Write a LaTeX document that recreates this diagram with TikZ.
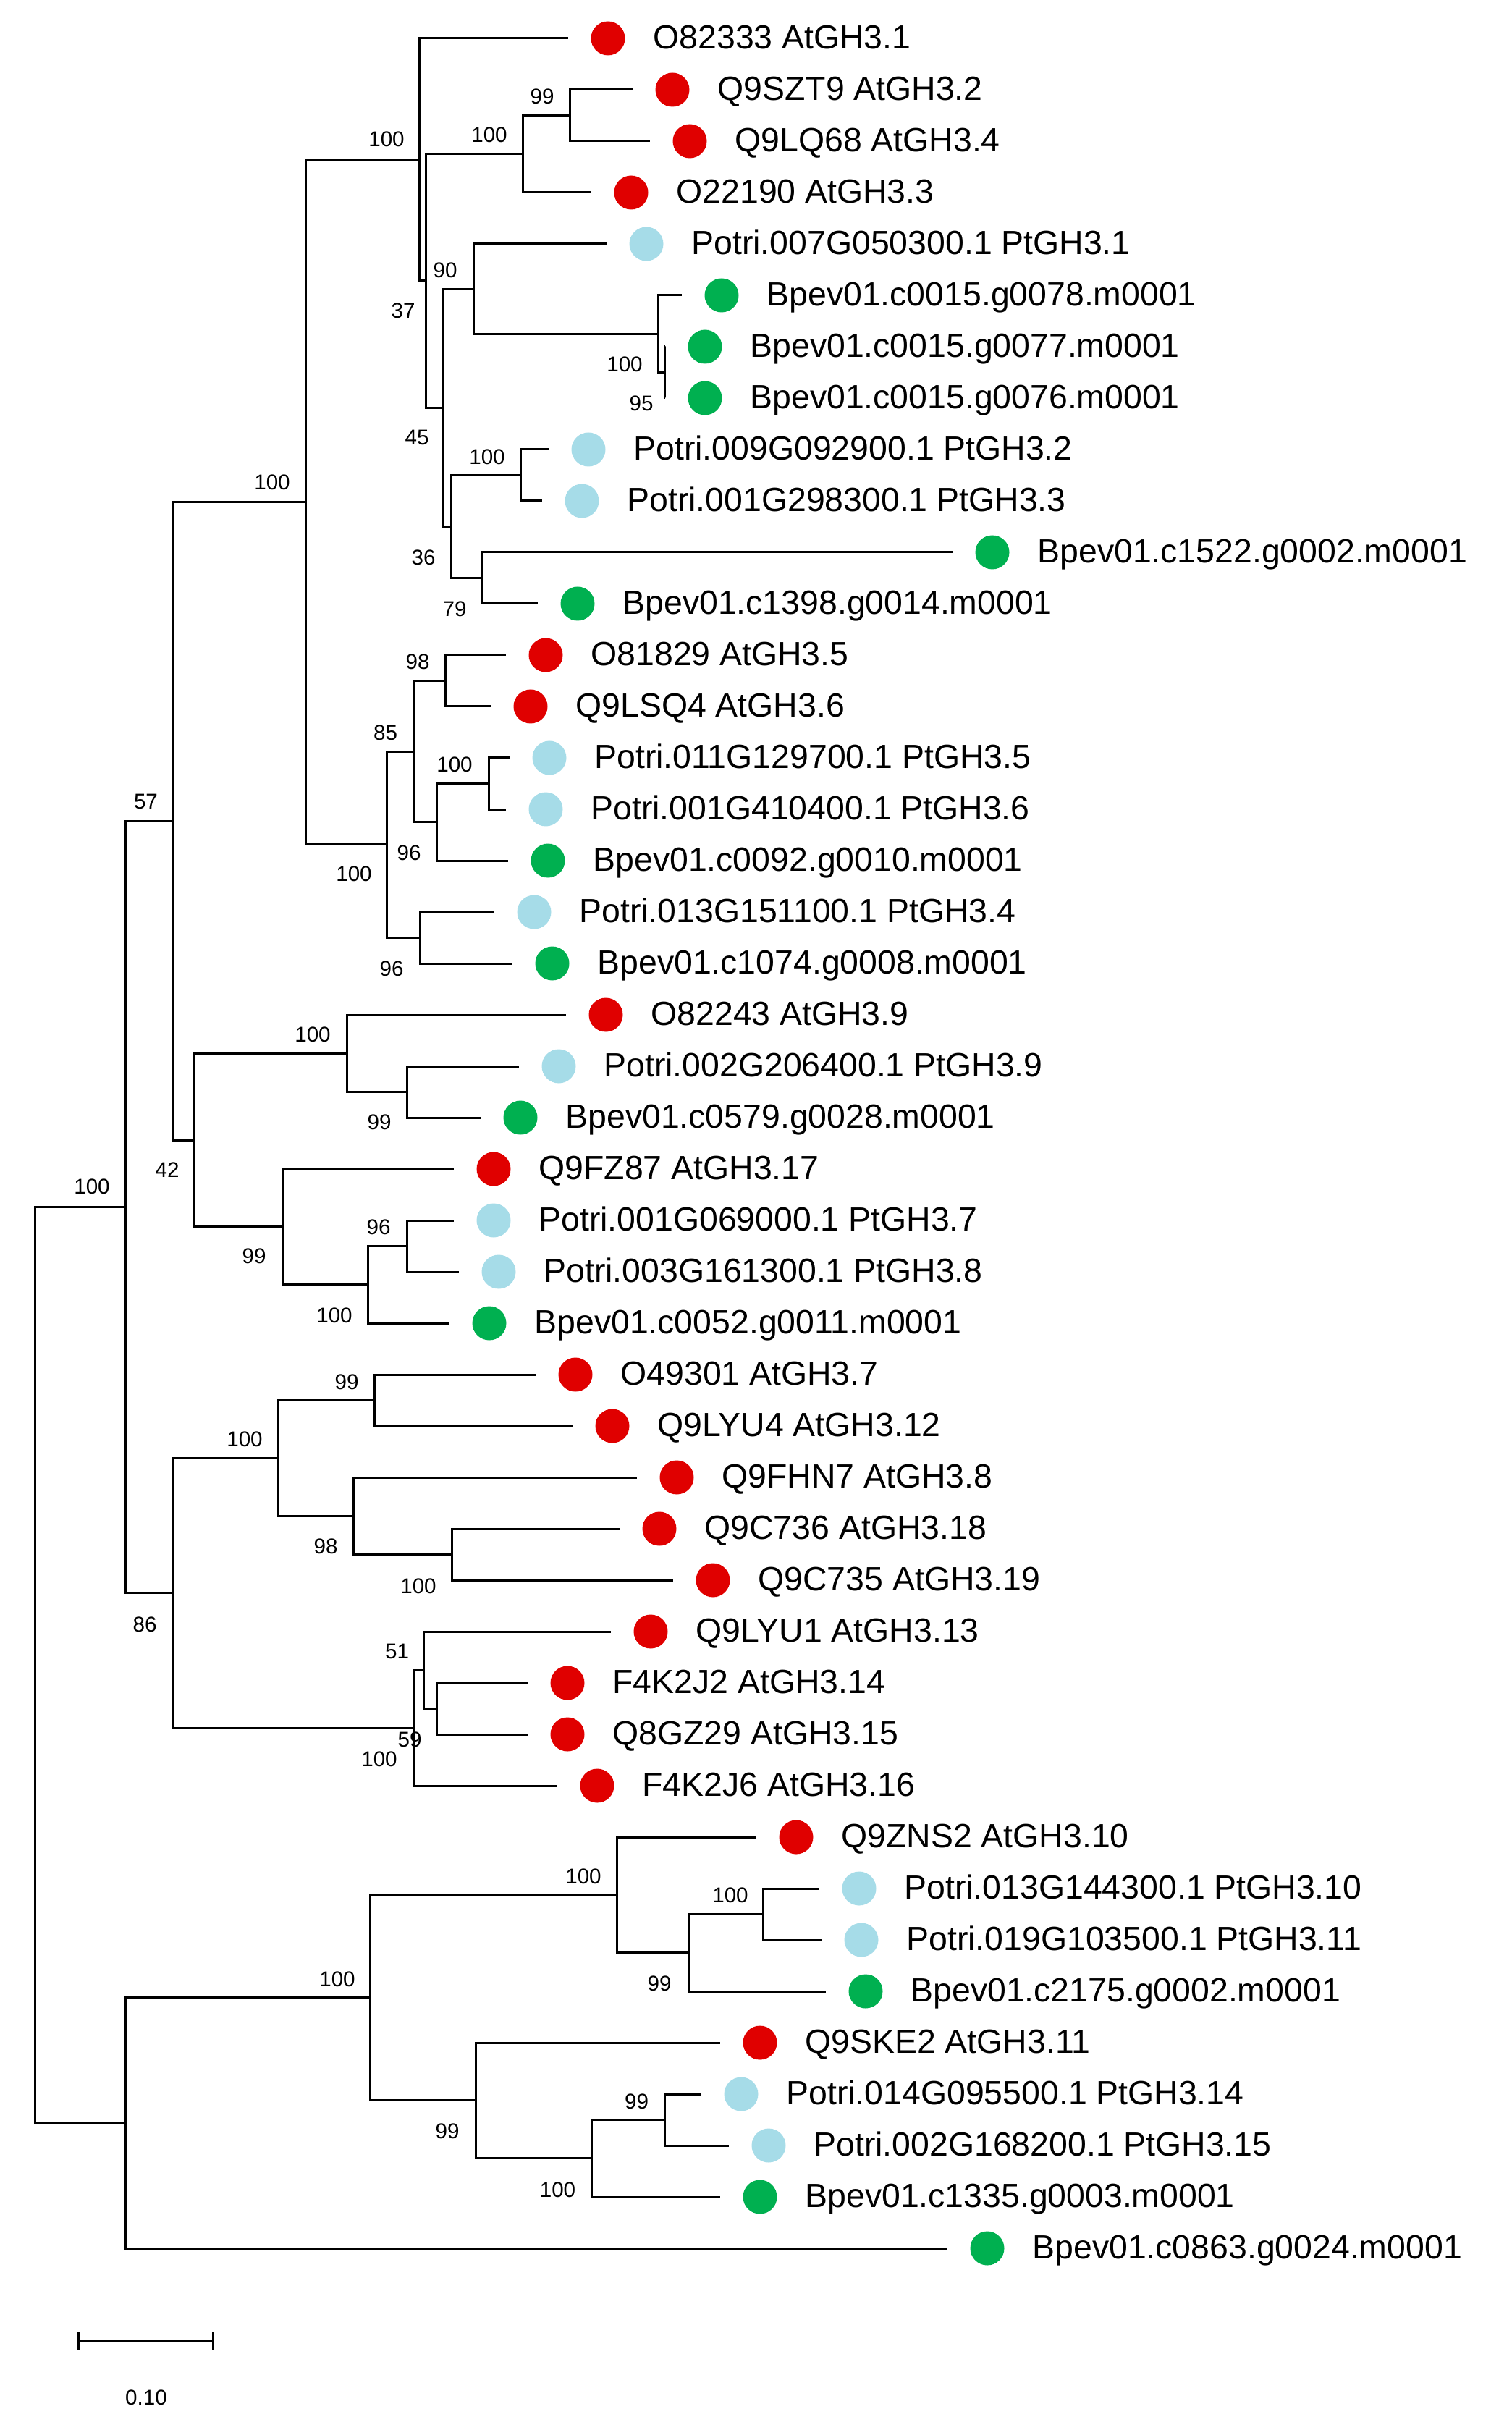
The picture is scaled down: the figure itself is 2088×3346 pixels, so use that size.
\documentclass[tikz,border=0pt]{standalone}
\usepackage{fontspec}
\setmainfont{Liberation Sans}
\usepackage{tikz}
\usetikzlibrary{arrows.meta,positioning}

\definecolor{atred}{RGB}{224,0,0}
\definecolor{ptblue}{RGB}{166,220,232}
\definecolor{bpgreen}{RGB}{0,176,80}

\tikzset{
  leaf/.style={circle,inner sep=0pt,minimum size=11.75pt,fill=#1},
  tag/.style={inner sep=0pt,text height=0.72em,text depth=0pt,font=\fontsize{11.6}{13}\selectfont},
  boot/.style={inner sep=0pt,text height=0.72em,text depth=0pt,font=\fontsize{7.4}{9}\selectfont},
  elbow/.style={to path={|- (\tikztotarget)}},
  twig/.style={shorten >=7.6pt}
}

\begin{document}
\begin{tikzpicture}[x=0.25pt,y=-0.25pt,line width=0.75pt,node distance=9pt]
\useasboundingbox (0,0) rectangle (2088,3346);

% leaves: dot, then name
  \node[leaf=atred]   (d1)  at (840,53)   {}; \node[tag] (t1)  [right=of d1]  {O82333 AtGH3.1};
  \node[leaf=atred]   (d2)  at (929,124)  {}; \node[tag] (t2)  [right=of d2]  {Q9SZT9 AtGH3.2};
  \node[leaf=atred]   (d3)  at (953,195)  {}; \node[tag] (t3)  [right=of d3]  {Q9LQ68 AtGH3.4};
  \node[leaf=atred]   (d4)  at (872,266)  {}; \node[tag] (t4)  [right=of d4]  {O22190 AtGH3.3};
  \node[leaf=ptblue]  (d5)  at (893,337)  {}; \node[tag] (t5)  [right=of d5]  {Potri.007G050300.1 PtGH3.1};
  \node[leaf=bpgreen] (d6)  at (997,408)  {}; \node[tag] (t6)  [right=of d6]  {Bpev01.c0015.g0078.m0001};
  \node[leaf=bpgreen] (d7)  at (974,479)  {}; \node[tag] (t7)  [right=of d7]  {Bpev01.c0015.g0077.m0001};
  \node[leaf=bpgreen] (d8)  at (974,550)  {}; \node[tag] (t8)  [right=of d8]  {Bpev01.c0015.g0076.m0001};
  \node[leaf=ptblue]  (d9)  at (813,621)  {}; \node[tag] (t9)  [right=of d9]  {Potri.009G092900.1 PtGH3.2};
  \node[leaf=ptblue]  (d10) at (804,692)  {}; \node[tag] (t10) [right=of d10] {Potri.001G298300.1 PtGH3.3};
  \node[leaf=bpgreen] (d11) at (1371,763) {}; \node[tag] (t11) [right=of d11] {Bpev01.c1522.g0002.m0001};
  \node[leaf=bpgreen] (d12) at (798,834)  {}; \node[tag] (t12) [right=of d12] {Bpev01.c1398.g0014.m0001};
  \node[leaf=atred]   (d13) at (754,905)  {}; \node[tag] (t13) [right=of d13] {O81829 AtGH3.5};
  \node[leaf=atred]   (d14) at (733,976)  {}; \node[tag] (t14) [right=of d14] {Q9LSQ4 AtGH3.6};
  \node[leaf=ptblue]  (d15) at (759,1047) {}; \node[tag] (t15) [right=of d15] {Potri.011G129700.1 PtGH3.5};
  \node[leaf=ptblue]  (d16) at (754,1118) {}; \node[tag] (t16) [right=of d16] {Potri.001G410400.1 PtGH3.6};
  \node[leaf=bpgreen] (d17) at (757,1189) {}; \node[tag] (t17) [right=of d17] {Bpev01.c0092.g0010.m0001};
  \node[leaf=ptblue]  (d18) at (738,1260) {}; \node[tag] (t18) [right=of d18] {Potri.013G151100.1 PtGH3.4};
  \node[leaf=bpgreen] (d19) at (763,1331) {}; \node[tag] (t19) [right=of d19] {Bpev01.c1074.g0008.m0001};
  \node[leaf=atred]   (d20) at (837,1402) {}; \node[tag] (t20) [right=of d20] {O82243 AtGH3.9};
  \node[leaf=ptblue]  (d21) at (772,1473) {}; \node[tag] (t21) [right=of d21] {Potri.002G206400.1 PtGH3.9};
  \node[leaf=bpgreen] (d22) at (719,1544) {}; \node[tag] (t22) [right=of d22] {Bpev01.c0579.g0028.m0001};
  \node[leaf=atred]   (d23) at (682,1615) {}; \node[tag] (t23) [right=of d23] {Q9FZ87 AtGH3.17};
  \node[leaf=ptblue]  (d24) at (682,1686) {}; \node[tag] (t24) [right=of d24] {Potri.001G069000.1 PtGH3.7};
  \node[leaf=ptblue]  (d25) at (689,1757) {}; \node[tag] (t25) [right=of d25] {Potri.003G161300.1 PtGH3.8};
  \node[leaf=bpgreen] (d26) at (676,1828) {}; \node[tag] (t26) [right=of d26] {Bpev01.c0052.g0011.m0001};
  \node[leaf=atred]   (d27) at (795,1899) {}; \node[tag] (t27) [right=of d27] {O49301 AtGH3.7};
  \node[leaf=atred]   (d28) at (846,1970) {}; \node[tag] (t28) [right=of d28] {Q9LYU4 AtGH3.12};
  \node[leaf=atred]   (d29) at (935,2041) {}; \node[tag] (t29) [right=of d29] {Q9FHN7 AtGH3.8};
  \node[leaf=atred]   (d30) at (911,2112) {}; \node[tag] (t30) [right=of d30] {Q9C736 AtGH3.18};
  \node[leaf=atred]   (d31) at (985,2183) {}; \node[tag] (t31) [right=of d31] {Q9C735 AtGH3.19};
  \node[leaf=atred]   (d32) at (899,2254) {}; \node[tag] (t32) [right=of d32] {Q9LYU1 AtGH3.13};
  \node[leaf=atred]   (d33) at (784,2325) {}; \node[tag] (t33) [right=of d33] {F4K2J2 AtGH3.14};
  \node[leaf=atred]   (d34) at (784,2396) {}; \node[tag] (t34) [right=of d34] {Q8GZ29 AtGH3.15};
  \node[leaf=atred]   (d35) at (825,2467) {}; \node[tag] (t35) [right=of d35] {F4K2J6 AtGH3.16};
  \node[leaf=atred]   (d36) at (1100,2538) {}; \node[tag] (t36) [right=of d36] {Q9ZNS2 AtGH3.10};
  \node[leaf=ptblue]  (d37) at (1187,2609) {}; \node[tag] (t37) [right=of d37] {Potri.013G144300.1 PtGH3.10};
  \node[leaf=ptblue]  (d38) at (1190,2680) {}; \node[tag] (t38) [right=of d38] {Potri.019G103500.1 PtGH3.11};
  \node[leaf=bpgreen] (d39) at (1196,2751) {}; \node[tag] (t39) [right=of d39] {Bpev01.c2175.g0002.m0001};
  \node[leaf=atred]   (d40) at (1050,2822) {}; \node[tag] (t40) [right=of d40] {Q9SKE2 AtGH3.11};
  \node[leaf=ptblue]  (d41) at (1024,2893) {}; \node[tag] (t41) [right=of d41] {Potri.014G095500.1 PtGH3.14};
  \node[leaf=ptblue]  (d42) at (1062,2964) {}; \node[tag] (t42) [right=of d42] {Potri.002G168200.1 PtGH3.15};
  \node[leaf=bpgreen] (d43) at (1050,3035) {}; \node[tag] (t43) [right=of d43] {Bpev01.c1335.g0003.m0001};
  \node[leaf=bpgreen] (d44) at (1364,3106) {}; \node[tag] (t44) [right=of d44] {Bpev01.c0863.g0024.m0001};

% inner nodes
  \coordinate (root) at (48.5,2300);
  \coordinate (nY)  at (173.5,1667.5);
  \coordinate (nBA) at (173.5,2933);
  \coordinate (nS)  at (238.5,1134.3);
  \coordinate (nAA) at (238.5,2200.8);
  \coordinate (nG1) at (422,693.6);
  \coordinate (nT)  at (268,1575.1);
  \coordinate (nA)  at (579,220.5);
  \coordinate (nM)  at (534.4,1166.8);
  \coordinate (nB)  at (588,388);
  \coordinate (nC)  at (722.6,212.75);
  \coordinate (nD)  at (787.6,159.5);
  \coordinate (nE)  at (612,563.3);
  \coordinate (nF)  at (654,399.1);
  \coordinate (nG)  at (909.4,461.25);
  \coordinate (nH)  at (918,514.5);
  \coordinate (nJ)  at (623.7,727.5);
  \coordinate (nK)  at (719,656.5);
  \coordinate (nL)  at (666,798.5);
  \coordinate (nN)  at (571,1038.1);
  \coordinate (nO)  at (615,940.5);
  \coordinate (nP)  at (603,1135.75);
  \coordinate (nQ)  at (675,1082.5);
  \coordinate (nR)  at (580,1295.5);
  \coordinate (nU)  at (479,1455.25);
  \coordinate (nV)  at (562,1508.5);
  \coordinate (nW)  at (390,1694.9);
  \coordinate (nX)  at (562,1721.5);
  \coordinate (nZ)  at (508,1774.75);
  \coordinate (nAB) at (384,2014.4);
  \coordinate (nAC) at (517,1934.5);
  \coordinate (nAD) at (488,2094.25);
  \coordinate (nAE) at (624,2147.5);
  \coordinate (nAF) at (571,2387.1);
  \coordinate (nAG) at (585.5,2307.25);
  \coordinate (nAH) at (603,2360.5);
  \coordinate (nBB) at (511.6,2759.9);
  \coordinate (nBC) at (852.7,2617.9);
  \coordinate (nBD) at (951,2697.75);
  \coordinate (nBE) at (1054.5,2644.5);
  \coordinate (nBF) at (657,2901.9);
  \coordinate (nBG) at (817,2981.75);
  \coordinate (nBH) at (918,2928.5);

%  <parent> edge (child), leaves get a twig
  \path[elbow]
    (root) edge (nY)  edge (nBA)
    (nY)   edge (nS)  edge (nAA)
    (nS)   edge (nG1) edge (nT)
    (nG1)  edge (nA)  edge (nM)
    (nA)   edge[twig] (d1)  edge (nB)
    (nB)   edge (nC)  edge (nE)
    (nC)   edge (nD)  edge[twig] (d4)
    (nD)   edge[twig] (d2)  edge[twig] (d3)
    (nE)   edge (nF)  edge (nJ)
    (nF)   edge[twig] (d5)  edge (nG)
    (nG)   edge[twig] (d6)  edge (nH)
    (nH)   edge[twig] (d7)  edge[twig] (d8)
    (nJ)   edge (nK)  edge (nL)
    (nK)   edge[twig] (d9)  edge[twig] (d10)
    (nL)   edge[twig] (d11) edge[twig] (d12)
    (nM)   edge (nN)  edge (nR)
    (nN)   edge (nO)  edge (nP)
    (nO)   edge[twig] (d13) edge[twig] (d14)
    (nP)   edge (nQ)  edge[twig] (d17)
    (nQ)   edge[twig] (d15) edge[twig] (d16)
    (nR)   edge[twig] (d18) edge[twig] (d19)
    (nT)   edge (nU)  edge (nW)
    (nU)   edge[twig] (d20) edge (nV)
    (nV)   edge[twig] (d21) edge[twig] (d22)
    (nW)   edge[twig] (d23) edge (nZ)
    (nZ)   edge (nX)  edge[twig] (d26)
    (nX)   edge[twig] (d24) edge[twig] (d25)
    (nAA)  edge (nAB) edge (nAF)
    (nAB)  edge (nAC) edge (nAD)
    (nAC)  edge[twig] (d27) edge[twig] (d28)
    (nAD)  edge[twig] (d29) edge (nAE)
    (nAE)  edge[twig] (d30) edge[twig] (d31)
    (nAF)  edge (nAG) edge[twig] (d35)
    (nAG)  edge[twig] (d32) edge (nAH)
    (nAH)  edge[twig] (d33) edge[twig] (d34)
    (nBA)  edge (nBB) edge[twig] (d44)
    (nBB)  edge (nBC) edge (nBF)
    (nBC)  edge[twig] (d36) edge (nBD)
    (nBD)  edge (nBE) edge[twig] (d39)
    (nBE)  edge[twig] (d37) edge[twig] (d38)
    (nBF)  edge[twig] (d40) edge (nBG)
    (nBG)  edge (nBH) edge[twig] (d43)
    (nBH)  edge[twig] (d41) edge[twig] (d42);

% bootstrap values
  \node[boot] (bA)  at (534,188)   {100};
  \node[boot] (bC)  at (676,182.5) {100};
  \node[boot] (bD)  at (749,129)   {99};
  \node[boot] (bB)  at (557,425)   {37};
  \node[boot] (bF)  at (615,369)   {90};
  \node[boot] (bE)  at (576,600)   {45};
  \node[boot] (bG)  at (863,499)   {100};
  \node[boot] (bH)  at (886,553)   {95};
  \node[boot] (bK)  at (673,627)   {100};
  \node[boot] (bJ)  at (585,766)   {36};
  \node[boot] (bL)  at (628,837)   {79};
  \node[boot] (bG1) at (376,662)   {100};
  \node[boot] (bO)  at (577,910)   {98};
  \node[boot] (bN)  at (532.5,1008) {85};
  \node[boot] (bQ)  at (628,1052)  {100};
  \node[boot] (bP)  at (565,1174)  {96};
  \node[boot] (bM)  at (489,1203)  {100};
  \node[boot] (bR)  at (541,1334)  {96};
  \node[boot] (bS)  at (201.5,1103) {57};
  \node[boot] (bU)  at (432,1425)  {100};
  \node[boot] (bV)  at (524,1546)  {99};
  \node[boot] (bT)  at (231,1612)  {42};
  \node[boot] (bY)  at (127,1635)  {100};
  \node[boot] (bX)  at (523,1691)  {96};
  \node[boot] (bW)  at (351,1731)  {99};
  \node[boot] (bZ)  at (462,1813)  {100};
  \node[boot] (bAC) at (479,1905)  {99};
  \node[boot] (bAB) at (338,1984)  {100};
  \node[boot] (bAD) at (450,2132)  {98};
  \node[boot] (bAE) at (578,2187)  {100};
  \node[boot] (bAA) at (200,2240)  {86};
  \node[boot] (bAG) at (548.5,2277) {51};
  \node[boot] (bAH) at (566,2399)  {59};
  \node[boot] (bAF) at (524,2426)  {100};
  \node[boot] (bBC) at (806,2588)  {100};
  \node[boot] (bBE) at (1009,2614) {100};
  \node[boot] (bBB) at (466,2730)  {100};
  \node[boot] (bBD) at (911,2736)  {99};
  \node[boot] (bBH) at (879.5,2899) {99};
  \node[boot] (bBF) at (618,2940)  {99};
  \node[boot] (bBG) at (770.5,3021) {100};

% scale bar
  \coordinate (s0) at (107,3234);
  \coordinate (s1) at (295.5,3234);
  \draw[{Bar[width=6pt]}-{Bar[width=6pt]}] (s0) -- (s1);
  \node[boot] (sl) at (202,3308) {0.10};
\end{tikzpicture}
\end{document}
